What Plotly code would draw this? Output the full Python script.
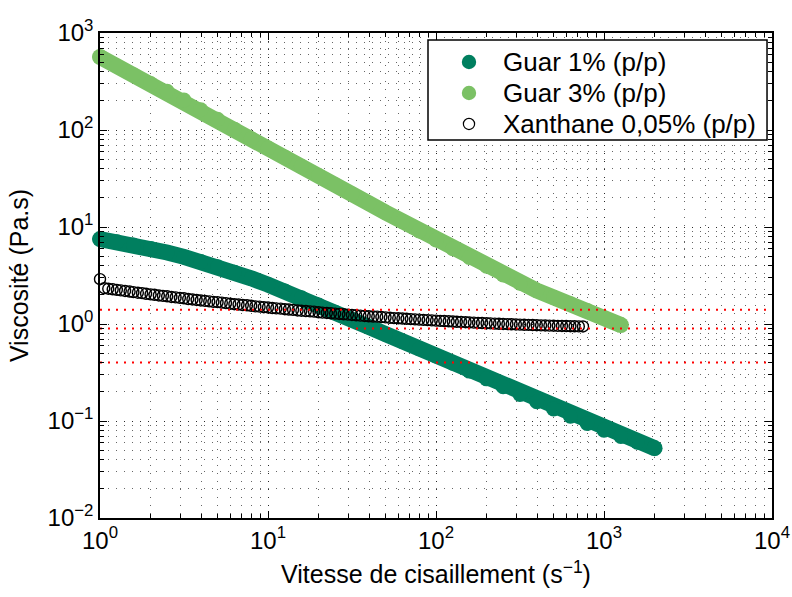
import plotly.graph_objects as go

# Shear rates (1/s) and viscosities (Pa.s)
guar1_rate = [1, 1.26, 1.58, 2.0, 2.51, 3.16, 3.98, 5.01, 6.31, 7.94,
              10, 12.6, 15.8, 20, 25.1, 31.6, 39.8, 50.1, 63.1, 79.4,
              100, 126, 158, 200, 251, 316, 398, 501, 631, 794,
              1000, 1260, 1580, 2000]
guar1_visc = [7.50, 7.05, 6.53, 6.00, 5.46, 4.92, 4.40, 3.89, 3.41, 2.96,
              2.55, 2.19, 1.86, 1.57, 1.32, 1.11, 0.933, 0.785, 0.661, 0.556,
              0.468, 0.394, 0.327, 0.272, 0.226, 0.188, 0.158, 0.133, 0.112, 0.0944,
              0.0804, 0.0692, 0.0603, 0.0525]

guar3_rate = [1, 1.26, 1.58, 2.0, 2.51, 3.16, 3.98, 5.01, 6.31, 7.94,
              10, 12.6, 15.8, 20, 25.1, 31.6, 39.8, 50.1, 63.1, 79.4,
              100, 126, 158, 200, 251, 316, 398, 501, 631, 794,
              1000, 1260]
guar3_visc = [566, 457, 372, 302, 251, 204, 162, 129, 102, 81.3,
              65.2, 52.5, 42.2, 33.9, 27.2, 21.9, 17.6, 14.1, 11.4, 9.12,
              7.35, 5.96, 4.84, 3.94, 3.20, 2.63, 2.21, 1.88, 1.62, 1.38,
              1.16, 0.977]

xan_rate = [1.0,
            1.06, 1.12, 1.19, 1.26, 1.33, 1.41, 1.50, 1.58, 1.68, 1.78,
            1.88, 2.00, 2.11, 2.24, 2.37, 2.51, 2.66, 2.82, 2.99, 3.16,
            3.35, 3.55, 3.76, 3.98, 4.22, 4.47, 4.73, 5.01, 5.31, 5.62,
            5.96, 6.31, 6.68, 7.08, 7.50, 7.94, 8.41, 8.91, 9.44, 10.0,
            10.6, 11.2, 11.9, 12.6, 13.3, 14.1, 15.0, 15.8, 16.8, 17.8,
            18.8, 20.0, 21.1, 22.4, 23.7, 25.1, 26.6, 28.2, 29.9, 31.6,
            33.5, 35.5, 37.6, 39.8, 42.2, 44.7, 47.3, 50.1, 53.1, 56.2,
            59.6, 63.1, 66.8, 70.8, 75.0, 79.4, 84.1, 89.1, 94.4, 100,
            106, 112, 119, 126, 133, 141, 150, 158, 168, 178,
            188, 200, 211, 224, 237, 251, 266, 282, 299, 316,
            335, 355, 376, 398, 422, 447, 473, 501, 531, 562,
            596, 631, 668, 708, 750]
xan_visc = [2.90,
            2.34, 2.31, 2.28, 2.25, 2.22, 2.19, 2.16, 2.13, 2.10, 2.08,
            2.05, 2.02, 2.00, 1.97, 1.95, 1.93, 1.90, 1.88, 1.86, 1.84,
            1.81, 1.79, 1.77, 1.75, 1.73, 1.71, 1.69, 1.68, 1.66, 1.64,
            1.62, 1.60, 1.59, 1.57, 1.56, 1.54, 1.52, 1.51, 1.49, 1.48,
            1.46, 1.45, 1.44, 1.42, 1.41, 1.40, 1.38, 1.37, 1.36, 1.35,
            1.34, 1.32, 1.31, 1.30, 1.29, 1.28, 1.27, 1.26, 1.25, 1.24,
            1.23, 1.22, 1.21, 1.20, 1.195, 1.19, 1.18, 1.17, 1.16, 1.15,
            1.146, 1.139, 1.131, 1.124, 1.117, 1.110, 1.103, 1.097, 1.090, 1.084,
            1.078, 1.072, 1.066, 1.060, 1.054, 1.049, 1.044, 1.038, 1.033, 1.028,
            1.024, 1.019, 1.014, 1.010, 1.006, 1.001, 0.997, 0.993, 0.989, 0.986,
            0.982, 0.979, 0.975, 0.972, 0.969, 0.966, 0.963, 0.960, 0.957, 0.954,
            0.952, 0.949, 0.947, 0.945, 0.943]

# Horizontal reference levels (Pa.s)
ref_levels = [1.4, 0.9, 0.4]

x_ticks = [1, 10, 100, 1000, 10000]
x_ticktext = ["10<sup>0</sup>", "10<sup>1</sup>", "10<sup>2</sup>", "10<sup>3</sup>", "10<sup>4</sup>"]
y_ticks = [0.01, 0.1, 1, 10, 100, 1000]
y_ticktext = ["10<sup>\u22122</sup>", "10<sup>\u22121</sup>", "10<sup>0</sup>",
              "10<sup>1</sup>", "10<sup>2</sup>", "10<sup>3</sup>"]

names = ["Guar 1% (p/p)", "Guar 3% (p/p)", "Xanthane 0,05% (p/p)"]
DARK = "#007f5f"
LIGHT = "#7bc165"
FONT = "Liberation Sans, Arial, Helvetica, sans-serif"

fig = go.Figure()

# thick bands of closely spaced filled markers for the guar solutions
for rate, visc, col, name in [(guar1_rate, guar1_visc, DARK, names[0]),
                              (guar3_rate, guar3_visc, LIGHT, names[1])]:
    fig.add_trace(go.Scatter(x=rate, y=visc, mode="lines", line=dict(color=col, width=16),
                             showlegend=False, hoverinfo="skip", cliponaxis=False))
    fig.add_trace(go.Scatter(x=rate, y=visc, mode="markers", name=name,
                             marker=dict(color=col, size=15, line=dict(width=0)),
                             showlegend=False, cliponaxis=False))
    fig.add_trace(go.Scatter(x=[rate[0], rate[-1]], y=[visc[0], visc[-1]], mode="markers",
                             marker=dict(color=col, size=16, line=dict(width=0)),
                             showlegend=False, hoverinfo="skip", cliponaxis=False))

fig.add_trace(go.Scatter(x=xan_rate, y=xan_visc, mode="markers", name=names[2],
                         marker=dict(symbol="circle-open", color="black", size=11,
                                     line=dict(width=1.4, color="black")),
                         showlegend=False, cliponaxis=False))

for lvl in ref_levels:
    fig.add_trace(go.Scatter(x=[x_ticks[0], x_ticks[-1]], y=[lvl, lvl], mode="lines",
                             line=dict(color="red", width=2, dash="2px,6px"),
                             showlegend=False, hoverinfo="skip"))

grid = dict(gridcolor="rgba(0,0,0,0.6)", gridwidth=1, griddash="1px,7px")

fig.update_xaxes(type="log", range=[0, 4], tickvals=x_ticks, ticktext=x_ticktext,
                 showline=True, linecolor="black", linewidth=1.5, mirror="allticks",
                 ticks="inside", ticklen=7, tickcolor="black", tickwidth=1,
                 showgrid=True, zeroline=False,
                 minor=dict(ticks="inside", ticklen=4, tickcolor="black", dtick="D1",
                            showgrid=True, **grid),
                 tickfont=dict(family=FONT, size=24, color="black"),
                 title=dict(text="Vitesse de cisaillement (s<sup>\u22121</sup>)",
                            font=dict(family=FONT, size=25, color="black"), standoff=13),
                 **grid)
fig.update_yaxes(type="log", range=[-2, 3], tickvals=y_ticks, ticktext=y_ticktext,
                 showline=True, linecolor="black", linewidth=1.5, mirror="allticks",
                 ticks="inside", ticklen=7, tickcolor="black", tickwidth=1,
                 showgrid=True, zeroline=False,
                 minor=dict(ticks="inside", ticklen=4, tickcolor="black", dtick="D1",
                            showgrid=True, **grid),
                 tickfont=dict(family=FONT, size=24, color="black"),
                 title=dict(text="Viscosit\u00e9 (Pa.s)",
                            font=dict(family=FONT, size=25, color="black"), standoff=12),
                 **grid)

# Legend box drawn in paper coordinates
box = dict(x0=0.4881, x1=0.9926, y0=0.7794, y1=0.9856)
sym_x = 0.5491
text_x = 0.5967
row_y = [0.9402, 0.8763, 0.8124]
shapes = [dict(type="rect", xref="paper", yref="paper", layer="above",
               fillcolor="white", line=dict(color="black", width=1.5), **box)]
symbols = [dict(fill=DARK, line=dict(width=0), r=7.2),
           dict(fill=LIGHT, line=dict(width=0), r=7.2),
           dict(fill="rgba(0,0,0,0)", line=dict(color="black", width=1.2), r=5.6)]
annotations = []
for name, yy, sym in zip(names, row_y, symbols):
    shapes.append(dict(type="circle", xref="paper", yref="paper", layer="above",
                       xsizemode="pixel", ysizemode="pixel", xanchor=sym_x, yanchor=yy,
                       x0=-sym["r"], x1=sym["r"], y0=-sym["r"], y1=sym["r"],
                       fillcolor=sym["fill"], line=sym["line"]))
    annotations.append(dict(text=name, xref="paper", yref="paper", x=text_x, y=yy,
                            xanchor="left", yanchor="middle", showarrow=False,
                            font=dict(family=FONT, size=26, color="black")))

fig.update_layout(
    width=792, height=597,
    margin=dict(l=100, r=20, t=33, b=79, autoexpand=False),
    paper_bgcolor="white", plot_bgcolor="white",
    font=dict(family=FONT, color="black"),
    showlegend=False,
    shapes=shapes, annotations=annotations,
)

fig.write_html("out.html")
